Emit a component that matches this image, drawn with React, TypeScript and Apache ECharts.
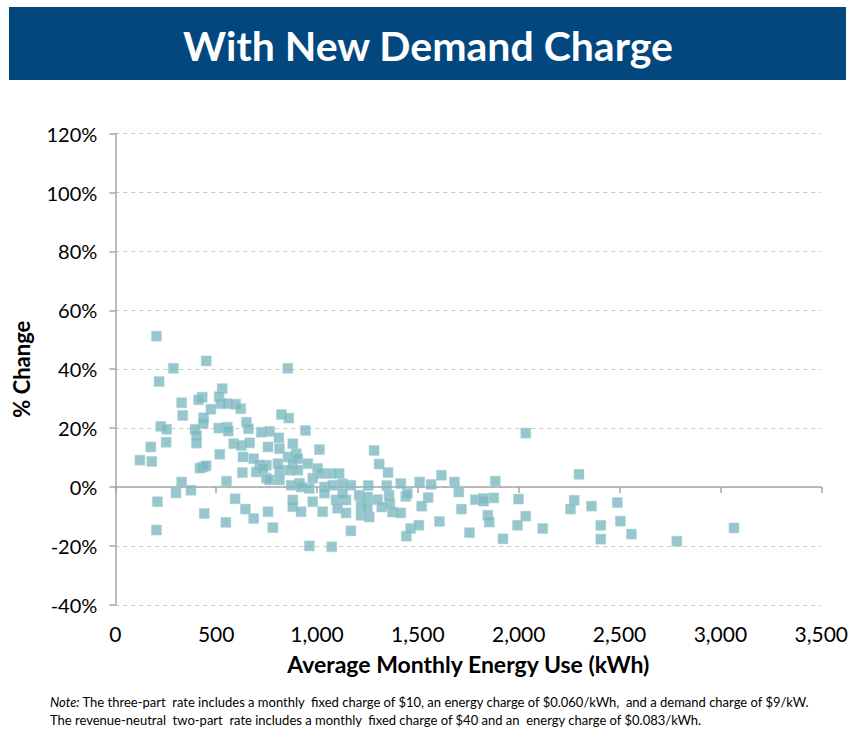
import React, { useEffect, useRef } from "react";
import * as echarts from "echarts";

const energyUse = [
  204, 288, 451, 217, 530, 515, 431, 413, 329, 523, 556, 597, 622, 474, 334, 438, 436, 225, 255, 395,
  650, 660, 513, 555, 560, 403, 403, 252, 176, 122, 181, 587, 625, 666, 518, 633, 686, 716, 699, 630,
  436, 420, 450, 551, 329, 375, 301, 209, 594, 645, 441, 686, 548, 204,
  855, 824, 860, 724, 765, 811, 943, 757, 814, 880, 897, 749,
  749, 806, 856, 880, 905, 954, 732, 815, 864, 905, 1003, 1020, 1070, 1110, 765, 814, 913, 979, 872, 921,
  962, 1037, 1078, 1127, 880, 880, 979, 1037, 1094, 1102, 1144, 921, 1028, 757, 781,
  1012, 1283, 1308, 1352, 1168, 1254, 1346, 1415, 1509, 1566, 1617, 1682, 1703, 1884, 1127, 1144, 1209, 1218,
  1218, 1259, 1250, 1250, 1300, 1321, 1357, 1361, 1374, 1415, 1440, 1448, 1551, 1519, 1607, 1716, 1785, 1826,
  1876, 1847, 1854, 1168, 1443, 1464, 1505, 1756, 962, 1073,
  2035, 2299, 1999, 2035, 1994, 2119, 1922, 2275, 2257, 2361, 2489, 2407, 2407, 2504, 2559, 1826, 2784, 3067,
];

const pctChange = [
  51.2, 40.3, 42.8, 35.8, 33.4, 30.7, 30.5, 29.6, 28.6, 28.3, 28.3, 28.1, 26.6, 26.4, 24.3, 23.5, 21.5, 20.6, 19.6, 19.6,
  22, 19.8, 20, 20.3, 19, 17.5, 14.9, 15.2, 13.6, 9.1, 8.7, 14.7, 14.1, 15, 11.1, 10.2, 9.6, 7.5, 5.1, 4.9,
  6.8, 6.4, 7.2, 2, 1.7, -1.1, -2, -5, -4, -7.5, -9, -10.7, -12, -14.6,
  40.3, 24.6, 23.4, 18.6, 18.9, 16.7, 19.2, 13.6, 13, 14.7, 11.3, 3,
  7.4, 7.9, 10.2, 7.9, 9.6, 7.9, 6.3, 5.7, 5.7, 5.7, 6.3, 4.6, 4.6, 4.6, 2.4, 2.4, 1.3, 3, 0.6, 0,
  -0.5, 0, 0.6, 1.1, -4.4, -6.7, -5, -2.1, -4.4, -7.2, -4.4, -8.4, -8.4, -8.4, -13.8,
  12.7, 12.4, 7.8, 4.9, 0.6, 0.5, 0.5, 1.2, 1.7, 0.9, 4, 1.7, -1.7, 2, -2.2, -8.8, -2.8, -6.2,
  -9.6, -10.2, -3.4, -6.8, -4.3, -6.8, -2.8, -5.6, -8.5, -8.8, -3.2, -2.2, -3.6, -6.5, -11.7, -7.5, -4.3, -3.9,
  -3.7, -9.6, -11.9, -14.9, -16.7, -14.1, -13, -15.5, -20, -20.3,
  18.3, 4.3, -4.1, -9.9, -13, -14.1, -17.6, -4.5, -7.5, -6.5, -5.3, -13, -17.7, -11.6, -16, -4.8, -18.4, -13.9,
];

const xTicks = { min: 0, max: 3500, step: 500 };
const yTicks = { min: -40, max: 120, step: 20 };

const titleText = "With New Demand Charge";
const xAxisTitle = "Average Monthly Energy Use (kWh)";
const yAxisTitle = "% Change";
const noteLine1 =
  "{i|Note:} The three-part  rate includes a monthly  fixed charge of $10, an energy charge of $0.060/kWh,  and a demand charge of $9/kW.";
const noteLine2 =
  "The revenue-neutral  two-part  rate includes a monthly  fixed charge of $40 and an  energy charge of $0.083/kWh.";

const FONT = "Lato, 'Open Sans', sans-serif";

export default function App() {
  const ref = useRef<HTMLDivElement>(null);

  useEffect(() => {
    if (!ref.current) return;
    const chart = echarts.init(ref.current, undefined, { renderer: "svg" });
    const data = energyUse.map((x, i) => [x, pctChange[i]]);
    const axisGray = "#A6A6A6";

    chart.setOption({
      animation: false,
      backgroundColor: "#ffffff",
      textStyle: { fontFamily: FONT },
      grid: { left: 115.3, top: 133.6, width: 709, height: 471.2, containLabel: false },
      graphic: [
        {
          type: "rect",
          shape: { x: 9, y: 7, width: 837, height: 73 },
          style: { fill: "#03477F" },
          z: 0,
        },
        {
          type: "text",
          x: 428,
          y: 45,
          style: {
            text: titleText,
            fill: "#ffffff",
            font: `bold 41px ${FONT}`,
            textAlign: "center",
            textVerticalAlign: "middle",
          },
        },
        {
          type: "text",
          x: 50,
          y: 702,
          style: {
            text: noteLine1,
            fill: "#000000",
            font: `13px ${FONT}`,
            textVerticalAlign: "middle",
            rich: {
              i: { fontStyle: "italic", fontSize: 13, fontFamily: FONT, fill: "#000000" },
            },
          },
        },
        {
          type: "text",
          x: 50,
          y: 720,
          style: {
            text: noteLine2,
            fill: "#000000",
            font: `13px ${FONT}`,
            textVerticalAlign: "middle",
          },
        },
      ],
      xAxis: [
        {
          type: "value",
          min: xTicks.min,
          max: xTicks.max,
          interval: xTicks.step,
          axisLine: { show: false, onZero: false },
          axisTick: { show: false },
          splitLine: { show: false },
          axisLabel: {
            fontSize: 21,
            color: "#000000",
            margin: 18,
            fontFamily: FONT,
            formatter: (v: number) => v.toLocaleString("en-US"),
          },
          name: xAxisTitle,
          nameLocation: "middle",
          nameGap: 48,
          nameTextStyle: { fontSize: 23, fontWeight: "bold", color: "#000000", fontFamily: FONT },
        },
        {
          type: "value",
          position: "bottom",
          min: xTicks.min,
          max: xTicks.max,
          interval: xTicks.step,
          axisLine: { show: true, onZero: true, lineStyle: { color: axisGray, width: 1.5 } },
          axisTick: { show: true, length: 6, lineStyle: { color: axisGray, width: 1.5 } },
          axisLabel: { show: false },
          splitLine: { show: false },
        },
      ],
      yAxis: {
        type: "value",
        min: yTicks.min,
        max: yTicks.max,
        interval: yTicks.step,
        axisLine: { show: true, onZero: false, lineStyle: { color: axisGray, width: 1.5 } },
        axisTick: { show: true, length: 6, lineStyle: { color: axisGray, width: 1.5 } },
        splitLine: { show: true, lineStyle: { type: [4, 4], color: "#C8C8C8", width: 1 } },
        axisLabel: {
          fontSize: 20,
          color: "#000000",
          margin: 18,
          fontFamily: FONT,
          formatter: "{value}%",
        },
        name: yAxisTitle,
        nameLocation: "middle",
        nameRotate: 90,
        nameGap: 83,
        nameTextStyle: { fontSize: 22, fontWeight: "bold", color: "#000000", fontFamily: FONT },
      },
      series: [
        {
          type: "scatter",
          xAxisIndex: 0,
          yAxisIndex: 0,
          symbol: "rect",
          symbolSize: 10,
          itemStyle: { color: "#7DB9C1", borderColor: "#A9D2D7", borderWidth: 0.6 },
          data,
          z: 3,
        },
      ],
    });

    return () => chart.dispose();
  }, []);

  return (
    <div
      ref={ref}
      style={{ position: "absolute", left: 0, top: 0, width: 851, height: 732 }}
    />
  );
}
